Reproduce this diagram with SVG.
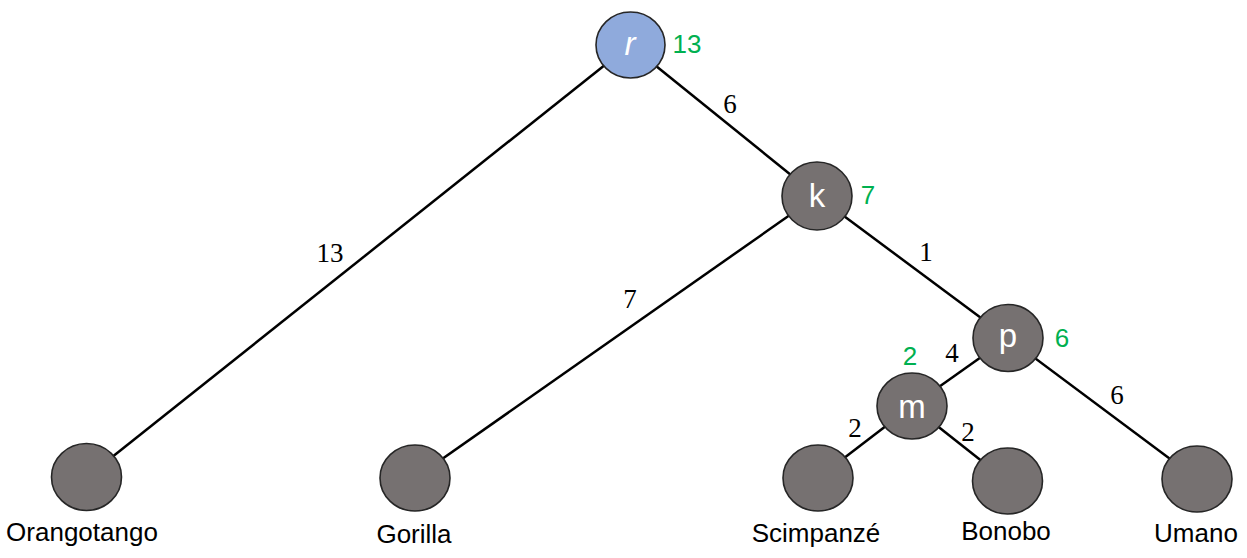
<svg xmlns="http://www.w3.org/2000/svg" width="1247" height="558" viewBox="0 0 1247 558">
<style>
.edge{stroke:#000;stroke-width:2.5;fill:none}
.node{fill:#767171;stroke:#262626;stroke-width:1.6}
.root{fill:#8faadc;stroke:#262626;stroke-width:1.6}
.nl{font-family:"Liberation Sans",Arial,sans-serif;font-size:33px;fill:#fff;text-anchor:middle}
.w{font-family:"Liberation Serif","DejaVu Serif",serif;font-size:27px;fill:#000;text-anchor:middle}
.g{font-family:"Liberation Sans",Arial,sans-serif;font-size:26px;fill:#00b050;text-anchor:middle}
.name{font-family:"Liberation Sans",Arial,sans-serif;font-size:26px;fill:#000;text-anchor:middle}
</style>
<rect width="1247" height="558" fill="#fff"/>
<g id="connectors">
<line class="edge" x1="630" y1="45" x2="87" y2="477"/>
<line class="edge" x1="630" y1="45" x2="817" y2="196"/>
<line class="edge" x1="817" y1="196" x2="415" y2="478"/>
<line class="edge" x1="817" y1="196" x2="1008" y2="338"/>
<line class="edge" x1="1008" y1="338" x2="912" y2="406"/>
<line class="edge" x1="1008" y1="338" x2="1197" y2="479"/>
<line class="edge" x1="912" y1="406" x2="818" y2="478"/>
<line class="edge" x1="912" y1="406" x2="1007" y2="481"/>
<text class="w" x="330" y="262">13</text>
<text class="w" x="730" y="113">6</text>
<text class="w" x="630" y="308">7</text>
<text class="w" x="926" y="261">1</text>
<text class="w" x="952" y="362">4</text>
<text class="w" x="855" y="437">2</text>
<text class="w" x="968" y="441">2</text>
<text class="w" x="1117" y="404">6</text>
</g>
<g id="node-r">
<ellipse class="root" cx="630.5" cy="45" rx="34.5" ry="33"/>
<text class="nl" x="630" y="55" font-style="italic">r</text>
<text class="g" x="687" y="53">13</text>
</g>
<g id="node-k">
<ellipse class="node" cx="817" cy="196" rx="35" ry="34"/>
<text class="nl" x="817" y="207">k</text>
<text class="g" x="868" y="204">7</text>
</g>
<g id="node-p">
<ellipse class="node" cx="1008" cy="338" rx="35" ry="33.5"/>
<text class="nl" x="1008" y="347">p</text>
<text class="g" x="1062" y="347">6</text>
</g>
<g id="node-m">
<ellipse class="node" cx="912" cy="406" rx="35" ry="33"/>
<text class="nl" x="912" y="418">m</text>
<text class="g" x="910" y="365">2</text>
</g>
<g id="node-orangotango">
<ellipse class="node" cx="86.5" cy="477" rx="35" ry="33.5"/>
<text class="name" x="82" y="541">Orangotango</text>
</g>
<g id="node-gorilla">
<ellipse class="node" cx="415" cy="478" rx="35" ry="33"/>
<text class="name" x="414" y="543">Gorilla</text>
</g>
<g id="node-scimpanze">
<ellipse class="node" cx="818" cy="478" rx="35" ry="33"/>
<text class="name" x="816" y="542">Scimpanzé</text>
</g>
<g id="node-bonobo">
<ellipse class="node" cx="1007.5" cy="481" rx="35" ry="33"/>
<text class="name" x="1006" y="540">Bonobo</text>
</g>
<g id="node-umano">
<ellipse class="node" cx="1197" cy="479" rx="35" ry="33"/>
<text class="name" x="1196" y="542">Umano</text>
</g>
</svg>
